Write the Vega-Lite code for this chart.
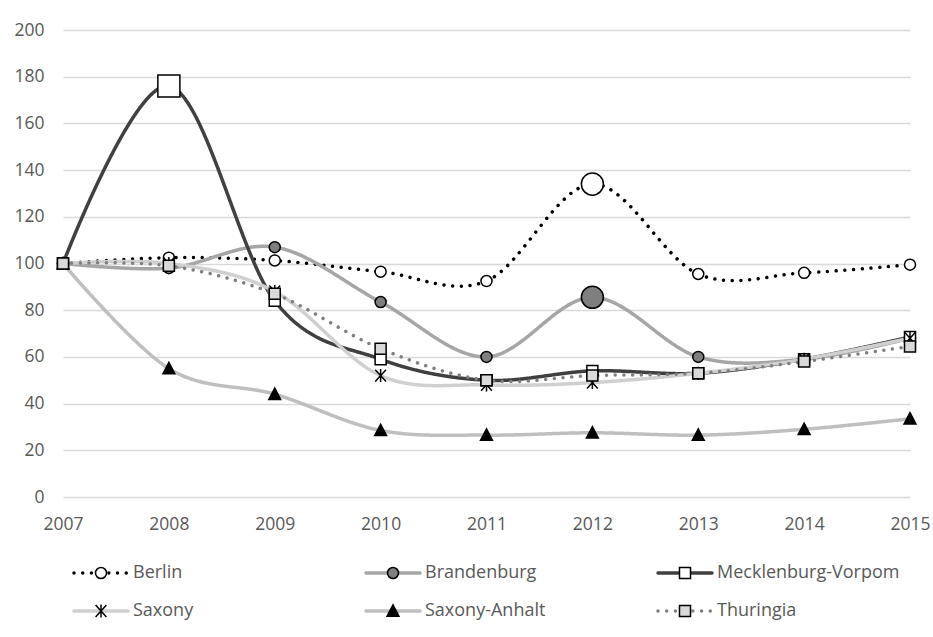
{
  "$schema": "https://vega.github.io/schema/vega-lite/v6.json",
  "width": 847,
  "height": 467,
  "autosize": {"type": "none"},
  "padding": {"left": 63, "top": 30, "right": 23, "bottom": 140},
  "background": "white",
  "config": {
    "font": "Open Sans",
    "view": {"stroke": null},
    "axis": {"labelFont": "Open Sans", "labelFontSize": 17.5, "labelColor": "#595959", "title": null}
  },
  "data": {
    "values": [
      {"year": 2007, "series": "Berlin", "state": "Berlin", "value": 100, "peak": "no"},
      {"year": 2008, "series": "Berlin", "state": "Berlin", "value": 102.5, "peak": "no"},
      {"year": 2009, "series": "Berlin", "state": "Berlin", "value": 101.3, "peak": "no"},
      {"year": 2010, "series": "Berlin", "state": "Berlin", "value": 96.5, "peak": "no"},
      {"year": 2011, "series": "Berlin", "state": "Berlin", "value": 92.5, "peak": "no"},
      {"year": 2012, "series": "Berlin", "state": "Berlin", "value": 134, "peak": "yes"},
      {"year": 2013, "series": "Berlin", "state": "Berlin", "value": 95.5, "peak": "no"},
      {"year": 2014, "series": "Berlin", "state": "Berlin", "value": 96, "peak": "no"},
      {"year": 2015, "series": "Berlin", "state": "Berlin", "value": 99.5, "peak": "no"},
      {"year": 2007, "series": "Brandenburg", "state": "Brandenburg", "value": 100, "peak": "no"},
      {"year": 2008, "series": "Brandenburg", "state": "Brandenburg", "value": 98, "peak": "no"},
      {"year": 2009, "series": "Brandenburg", "state": "Brandenburg", "value": 107, "peak": "no"},
      {"year": 2010, "series": "Brandenburg", "state": "Brandenburg", "value": 83.5, "peak": "no"},
      {"year": 2011, "series": "Brandenburg", "state": "Brandenburg", "value": 60, "peak": "no"},
      {"year": 2012, "series": "Brandenburg", "state": "Brandenburg", "value": 85.5, "peak": "yes"},
      {"year": 2013, "series": "Brandenburg", "state": "Brandenburg", "value": 60, "peak": "no"},
      {"year": 2014, "series": "Brandenburg", "state": "Brandenburg", "value": 59, "peak": "no"},
      {"year": 2015, "series": "Brandenburg", "state": "Brandenburg", "value": 68, "peak": "no"},
      {"year": 2007, "series": "Mecklenburg-Vorpom", "state": "Mecklenburg-Vorpom", "value": 100, "peak": "no"},
      {"year": 2008, "series": "Mecklenburg-Vorpom", "state": "Mecklenburg-Vorpom", "value": 176, "peak": "yes"},
      {"year": 2009, "series": "Mecklenburg-Vorpom", "state": "Mecklenburg-Vorpom", "value": 84, "peak": "no"},
      {"year": 2010, "series": "Mecklenburg-Vorpom", "state": "Mecklenburg-Vorpom", "value": 59, "peak": "no"},
      {"year": 2011, "series": "Mecklenburg-Vorpom", "state": "Mecklenburg-Vorpom", "value": 50, "peak": "no"},
      {"year": 2012, "series": "Mecklenburg-Vorpom", "state": "Mecklenburg-Vorpom", "value": 54, "peak": "no"},
      {"year": 2013, "series": "Mecklenburg-Vorpom", "state": "Mecklenburg-Vorpom", "value": 53, "peak": "no"},
      {"year": 2014, "series": "Mecklenburg-Vorpom", "state": "Mecklenburg-Vorpom", "value": 59, "peak": "no"},
      {"year": 2015, "series": "Mecklenburg-Vorpom", "state": "Mecklenburg-Vorpom", "value": 68.5, "peak": "no"},
      {"year": 2007, "series": "Saxony", "state": "Saxony", "value": 100, "peak": "no"},
      {"year": 2008, "series": "Saxony", "state": "Saxony", "value": 100, "peak": "no"},
      {"year": 2009, "series": "Saxony", "state": "Saxony", "value": 88, "peak": "no"},
      {"year": 2010, "series": "Saxony", "state": "Saxony", "value": 52, "peak": "no"},
      {"year": 2011, "series": "Saxony", "state": "Saxony", "value": 48, "peak": "no"},
      {"year": 2012, "series": "Saxony", "state": "Saxony", "value": 49, "peak": "no"},
      {"year": 2013, "series": "Saxony", "state": "Saxony", "value": 53, "peak": "no"},
      {"year": 2014, "series": "Saxony", "state": "Saxony", "value": 59, "peak": "no"},
      {"year": 2015, "series": "Saxony", "state": "Saxony", "value": 68, "peak": "no"},
      {"year": 2007, "series": "Saxony-Anhalt", "state": "Saxony-Anhalt", "value": 100, "peak": "no"},
      {"year": 2008, "series": "Saxony-Anhalt", "state": "Saxony-Anhalt", "value": 55, "peak": "no"},
      {"year": 2009, "series": "Saxony-Anhalt", "state": "Saxony-Anhalt", "value": 44, "peak": "no"},
      {"year": 2010, "series": "Saxony-Anhalt", "state": "Saxony-Anhalt", "value": 28.5, "peak": "no"},
      {"year": 2011, "series": "Saxony-Anhalt", "state": "Saxony-Anhalt", "value": 26.5, "peak": "no"},
      {"year": 2012, "series": "Saxony-Anhalt", "state": "Saxony-Anhalt", "value": 27.5, "peak": "no"},
      {"year": 2013, "series": "Saxony-Anhalt", "state": "Saxony-Anhalt", "value": 26.5, "peak": "no"},
      {"year": 2014, "series": "Saxony-Anhalt", "state": "Saxony-Anhalt", "value": 29, "peak": "no"},
      {"year": 2015, "series": "Saxony-Anhalt", "state": "Saxony-Anhalt", "value": 33.5, "peak": "no"},
      {"year": 2007, "series": "Thuringia", "state": "Thuringia", "value": 100, "peak": "no"},
      {"year": 2008, "series": "Thuringia", "state": "Thuringia", "value": 99, "peak": "no"},
      {"year": 2009, "series": "Thuringia", "state": "Thuringia", "value": 87, "peak": "no"},
      {"year": 2010, "series": "Thuringia", "state": "Thuringia", "value": 63.5, "peak": "no"},
      {"year": 2011, "series": "Thuringia", "state": "Thuringia", "value": 50, "peak": "no"},
      {"year": 2012, "series": "Thuringia", "state": "Thuringia", "value": 52, "peak": "no"},
      {"year": 2013, "series": "Thuringia", "state": "Thuringia", "value": 53, "peak": "no"},
      {"year": 2014, "series": "Thuringia", "state": "Thuringia", "value": 58, "peak": "no"},
      {"year": 2015, "series": "Thuringia", "state": "Thuringia", "value": 64.5, "peak": "no"}
    ]
  },
  "encoding": {
    "x": {
      "field": "year", "type": "quantitative",
      "scale": {"domain": [2007, 2015], "nice": false, "zero": false},
      "axis": {"values": [2007, 2008, 2009, 2010, 2011, 2012, 2013, 2014, 2015], "format": "d", "grid": false, "domain": false, "ticks": false, "labelPadding": 18, "labelFlush": false}
    },
    "y": {
      "field": "value", "type": "quantitative",
      "scale": {"domain": [0, 200], "nice": false},
      "axis": {"values": [0, 20, 40, 60, 80, 100, 120, 140, 160, 180, 200], "grid": true, "gridColor": "#d9d9d9", "gridWidth": 1.3, "domain": false, "ticks": false, "labelPadding": 19}
    }
  },
  "layer": [
    {
      "mark": {"type": "line", "interpolate": "cardinal", "strokeWidth": 3.5, "strokeCap": "round", "strokeJoin": "round"},
      "encoding": {
        "color": {
          "field": "series", "type": "nominal",
          "scale": {"range": ["#000000", "#a6a6a6", "#404040", "#d0d0d0", "#bfbfbf", "#808080"]},
          "legend": {"title": null, "orient": "none", "legendX": 9, "legendY": 533, "direction": "horizontal", "columns": 3, "symbolType": "stroke", "symbolSize": 2916, "symbolStrokeWidth": 3.5, "clipHeight": 20, "rowPadding": 18, "columnPadding": 48, "gridAlign": "all", "labelOffset": 3, "labelFont": "Open Sans", "labelFontSize": 18, "labelColor": "#595959", "labelLimit": 400, "padding": 0, "zindex": 0,
            "encode": {"symbols": {"update": {"strokeCap": {"value": "round"}, "opacity": {"value": 1}}}}}
        },
        "strokeDash": {
          "field": "series", "type": "nominal",
          "scale": {"range": [[0.01, 8.7], [1, 0], [1, 0], [1, 0], [1, 0], [0.01, 8.7]]},
          "legend": {"title": null, "orient": "none", "legendX": 9, "legendY": 533, "direction": "horizontal", "columns": 3, "symbolType": "stroke", "symbolSize": 2916, "symbolStrokeWidth": 3.5, "clipHeight": 20, "rowPadding": 18, "columnPadding": 48, "gridAlign": "all", "labelOffset": 3, "labelFont": "Open Sans", "labelFontSize": 18, "labelColor": "#595959", "labelLimit": 400, "padding": 0, "zindex": 0}
        }
      }
    },
    {
      "mark": {"type": "point", "filled": true, "stroke": "#000000", "strokeWidth": 1.5, "opacity": 1},
      "encoding": {
        "shape": {
          "field": "state", "type": "nominal",
          "scale": {"range": [
            "M0.204,0A0.204,0.204,0,1,1,-0.204,0A0.204,0.204,0,1,1,0.204,0Z",
            "M0.204,0A0.204,0.204,0,1,1,-0.204,0A0.204,0.204,0,1,1,0.204,0Z",
            "M-0.204,-0.204H0.204V0.204H-0.204Z",
            "M-0.2,-0.22L0.2,0.22M-0.2,0.22L0.2,-0.22M0,-0.24V0.24",
            "M0,-0.23L0.22,0.19H-0.22Z",
            "M-0.204,-0.204H0.204V0.204H-0.204Z"
          ]},
          "legend": {"title": null, "orient": "none", "legendX": 9, "legendY": 533, "direction": "horizontal", "columns": 3, "symbolSize": 2916, "symbolStrokeWidth": 1.5, "clipHeight": 20, "rowPadding": 18, "columnPadding": 230, "gridAlign": "all", "labelOffset": 5, "symbolOffset": 1, "labelFont": "Open Sans", "labelFontSize": 18, "labelExpr": "''", "labelLimit": 400, "padding": 0, "zindex": 1,
            "encode": {"symbols": {"update": {"stroke": {"value": "#000000"}, "strokeWidth": {"value": 1.5}, "opacity": {"value": 1}}}}}
        },
        "fill": {
          "field": "state", "type": "nominal",
          "scale": {"range": ["#ffffff", "#7f7f7f", "#ffffff", "transparent", "#000000", "#d9d9d9"]},
          "legend": {"title": null, "orient": "none", "legendX": 9, "legendY": 533, "direction": "horizontal", "columns": 3, "symbolSize": 2916, "symbolStrokeWidth": 1.5, "clipHeight": 20, "rowPadding": 18, "columnPadding": 230, "gridAlign": "all", "labelOffset": 5, "symbolOffset": 1, "labelFont": "Open Sans", "labelFontSize": 18, "labelExpr": "''", "labelLimit": 400, "padding": 0, "zindex": 1}
        },
        "size": {
          "field": "peak", "type": "ordinal",
          "scale": {"domain": ["no", "yes"], "range": [2916, 11664]},
          "legend": null
        }
      }
    }
  ]
}
